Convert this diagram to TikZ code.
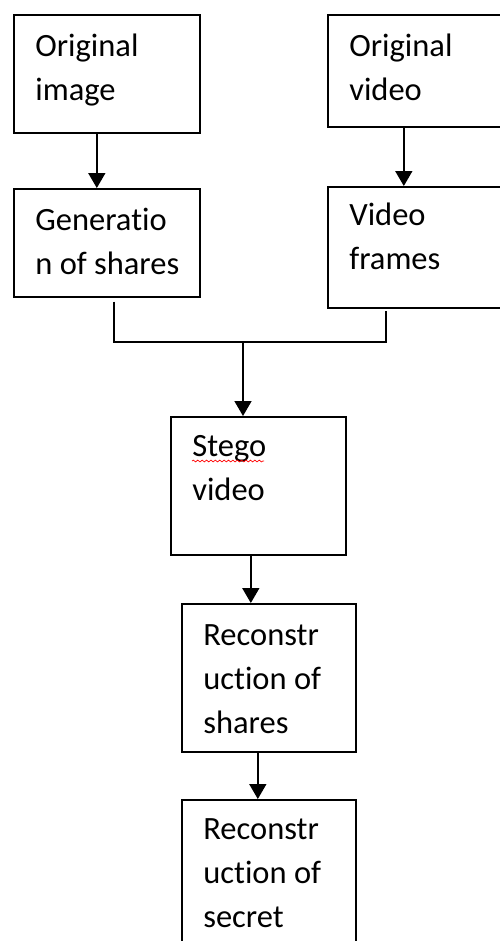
\documentclass[tikz,border=0pt]{standalone}
\usepackage{fontspec}
\setmainfont[Ligatures=NoCommon]{Carlito}
\usetikzlibrary{arrows.meta,decorations.pathmorphing}

\tikzset{
    box/.style={draw, line width=0.95pt, anchor=north west, inner sep=0pt},
    lbl/.style={anchor=base west, align=left, inner sep=0pt,
        font=\fontsize{18.5pt}{25pt}\selectfont},
    link/.style={line width=0.95pt},
    arr/.style={link, -{Triangle[width=0.34cm,length=0.3cm]}}
}

\begin{document}
\begin{tikzpicture}[x=0.02cm, y=-0.02cm]
    \clip (0,0) rectangle (500,941);
    \fill[white] (0,0) rectangle (500,941);

    \node[box, minimum width=3.72cm, minimum height=2.36cm] (img) at (13,14) {};
    \node[box, minimum width=3.72cm, minimum height=2.24cm] (vid) at (327,14) {};
    \node[box, minimum width=3.72cm, minimum height=2.16cm] (gen) at (13,188) {};
    \node[box, minimum width=3.72cm, minimum height=2.42cm] (frames) at (327,186) {};
    \node[box, minimum width=3.5cm, minimum height=2.76cm] (stego) at (170,416) {};
    \node[box, minimum width=3.48cm, minimum height=2.96cm] (recsh) at (181,603) {};
    \node[box, minimum width=3.48cm, minimum height=3.0cm] (recsec) at (181,799) {};

    % labels sit on the baseline of their last line
    \node[lbl] (img-t) at ([shift={(22,86)}]img.north west) {Original\\image};
    \node[lbl] (vid-t) at ([shift={(22,86)}]vid.north west) {Original\\video};
    \node[lbl] (gen-t) at ([shift={(22,86)}]gen.north west) {Generatio\\n of shares};
    \node[lbl] (frames-t) at ([shift={(22,83)}]frames.north west) {Video\\frames};
    \node[lbl] (stego-t) at ([shift={(22,84)}]stego.north west) {Stego\\video};
    \node[lbl] (recsh-t) at ([shift={(22,130)}]recsh.north west) {Reconstr\\uction of\\shares};
    \node[lbl] (recsec-t) at ([shift={(22,128)}]recsec.north west) {Reconstr\\uction of\\secret};

    % spelling squiggle under Stego
    \draw[red, line width=0.4pt, decorate,
        decoration={snake, amplitude=0.5pt, segment length=2.5pt}]
        ([shift={(22,45)}]stego.north west) -- ([shift={(94,45)}]stego.north west);

    \draw[arr] ([shift={(-10,0)}]img.south) -- ([shift={(-10,0)}]gen.north);
    \draw[arr] ([shift={(-17,0)}]vid.south) -- ([shift={(-17,0)}]frames.north);

    \coordinate (join) at (243,342);
    \coordinate (gen-out) at ([shift={(7,4)}]gen.south);
    \coordinate (frames-out) at ([shift={(-35,2)}]frames.south);
    \draw[link] (gen-out) |- (join) -| (frames-out);
    \draw[arr] (join) -- (join |- stego.north);

    \coordinate (stego-out) at ([shift={(-7.5,0)}]stego.south);
    \draw[arr] (stego-out) -- (stego-out |- recsh.north);
    \coordinate (recsh-out) at ([shift={(-11,0)}]recsh.south);
    \draw[arr] (recsh-out) -- (recsh-out |- recsec.north);
\end{tikzpicture}
\end{document}
